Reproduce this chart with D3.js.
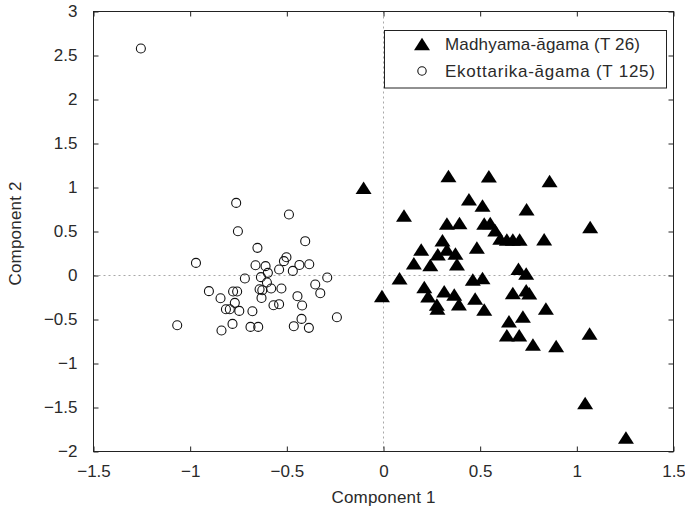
<!DOCTYPE html>
<html>
<head>
<meta charset="utf-8">
<script src="https://cdn.jsdelivr.net/npm/d3@7"></script>
<style>
  html, body { margin: 0; padding: 0; background: #fff; }
  svg text { font-family: "Liberation Sans", Arial, Helvetica, sans-serif; fill: #2a2a2a; }
</style>
</head>
<body>
<svg id="chart" width="685" height="513"></svg>
<script>
// Principal component scores, Madhyama-āgama (T 26)
const madhyamaX = [-0.103, 0.336, 0.545, 0.859, 0.442, 0.512, 0.740, 1.069, 0.106, 0.328,
  0.393, 0.521, 0.552, 0.578, 0.604, 0.638, 0.669, 0.704, 0.831, 0.305,
  0.195, 0.328, 0.281, 0.372, 0.483, 0.157, 0.242, 0.380, 0.698, 0.738,
  0.083, 0.462, 0.512, -0.008, 0.211, 0.231, 0.314, 0.366, 0.390, 0.276,
  0.279, 0.474, 0.521, 0.669, 0.738, 0.754, 0.840, 0.649, 0.721, 0.638,
  0.702, 0.773, 0.893, 1.066, 1.043, 1.254];
const madhyamaY = [0.998, 1.132, 1.128, 1.075, 0.867, 0.795, 0.753, 0.552, 0.682, 0.591,
  0.598, 0.591, 0.598, 0.515, 0.420, 0.409, 0.409, 0.409, 0.412, 0.401,
  0.295, 0.295, 0.242, 0.250, 0.318, 0.140, 0.120, 0.128, 0.077, 0.023,
  -0.031, -0.045, -0.027, -0.232, -0.130, -0.235, -0.178, -0.216, -0.326, -0.330,
  -0.375, -0.261, -0.386, -0.198, -0.167, -0.201, -0.375, -0.519, -0.466, -0.678,
  -0.678, -0.784, -0.800, -0.659, -1.448, -1.841];

// Principal component scores, Ekottarika-āgama (T 125)
const ekottarikaX = [-1.255, -0.762, -0.489, -0.753, -0.405, -0.652, -0.502, -0.515, -0.970, -0.662,
  -0.610, -0.435, -0.384, -0.540, -0.469, -0.598, -0.634, -0.717, -0.291, -0.603,
  -0.353, -0.903, -0.778, -0.757, -0.641, -0.627, -0.581, -0.528, -0.327, -0.843,
  -0.631, -0.445, -0.769, -0.569, -0.540, -0.421, -0.815, -0.795, -0.746, -0.678,
  -0.241, -0.424, -1.067, -0.781, -0.688, -0.648, -0.464, -0.386, -0.838];
const ekottarikaY = [2.580, 0.825, 0.693, 0.503, 0.390, 0.314, 0.208, 0.163, 0.143, 0.117,
  0.106, 0.120, 0.128, 0.068, 0.052, 0.030, -0.019, -0.034, -0.023, -0.080,
  -0.102, -0.178, -0.182, -0.182, -0.156, -0.167, -0.148, -0.148, -0.201, -0.258,
  -0.255, -0.235, -0.311, -0.338, -0.326, -0.341, -0.383, -0.383, -0.402, -0.406,
  -0.474, -0.493, -0.565, -0.550, -0.584, -0.584, -0.576, -0.595, -0.625];

const xTicks = [-1.5, -1, -0.5, 0, 0.5, 1, 1.5];
const yTicks = [-2, -1.5, -1, -0.5, 0, 0.5, 1, 1.5, 2, 2.5, 3];
const seriesNames = ["Madhyama-āgama (T 26)", "Ekottarika-āgama (T 125)"];
const xLabel = "Component 1";
const yLabel = "Component 2";

const svg = d3.select("#chart");
const plotLeft = 93.5, plotRight = 673.5, plotTop = 11.5, plotBottom = 451.5;
const fontSize = 17;
const textColor = "#2a2a2a";

const x = d3.scaleLinear().domain([-1.5, 1.5]).range([plotLeft, plotRight]);
const y = d3.scaleLinear().domain([-2, 3]).range([plotBottom, plotTop]);

// zero reference lines
const ref = svg.append("g").attr("stroke", "#a8a8a8").attr("stroke-width", 1)
  .attr("stroke-dasharray", "2,3");
ref.append("line").attr("x1", x(0)).attr("x2", x(0)).attr("y1", plotTop).attr("y2", plotBottom);
ref.append("line").attr("x1", plotLeft).attr("x2", plotRight).attr("y1", y(0)).attr("y2", y(0));

// axes with inward ticks on all four sides
const tickLen = 5;
function styleAxis(g) {
  g.select(".domain").remove();
  g.selectAll(".tick line").attr("stroke", "#222");
  g.selectAll(".tick text").attr("font-size", fontSize).attr("fill", textColor)
    .attr("font-family", "Liberation Sans, Arial, sans-serif");
}
svg.append("g").attr("transform", `translate(0,${plotBottom})`)
  .call(d3.axisBottom(x).tickValues(xTicks).tickFormat(d3.format("")).tickSizeInner(-tickLen).tickPadding(13))
  .call(styleAxis);
svg.append("g").attr("transform", `translate(0,${plotTop})`)
  .call(d3.axisTop(x).tickValues(xTicks).tickFormat("").tickSizeInner(-tickLen))
  .call(styleAxis);
svg.append("g").attr("transform", `translate(${plotLeft},0)`)
  .call(d3.axisLeft(y).tickValues(yTicks).tickFormat(d3.format("")).tickSizeInner(-tickLen).tickPadding(16))
  .call(styleAxis);
svg.append("g").attr("transform", `translate(${plotRight},0)`)
  .call(d3.axisRight(y).tickValues(yTicks).tickFormat("").tickSizeInner(-tickLen))
  .call(styleAxis);

// plot frame
svg.append("rect").attr("x", plotLeft).attr("y", plotTop)
  .attr("width", plotRight - plotLeft).attr("height", plotBottom - plotTop)
  .attr("fill", "none").attr("stroke", "#222").attr("stroke-width", 1);

// marker shapes
const triW = 16, triH = 12.5;
const triPath = `M0,${-triH / 2}L${triW / 2},${triH / 2}L${-triW / 2},${triH / 2}Z`;
const circR = 4.5;

// Ekottarika-āgama: open circles
svg.append("g").selectAll("circle")
  .data(ekottarikaX.map((v, i) => [v, ekottarikaY[i]]))
  .join("circle")
  .attr("cx", d => x(d[0])).attr("cy", d => y(d[1])).attr("r", circR)
  .attr("fill", "none").attr("stroke", "#111").attr("stroke-width", 1.1);

// Madhyama-āgama: filled triangles
svg.append("g").selectAll("path")
  .data(madhyamaX.map((v, i) => [v, madhyamaY[i]]))
  .join("path")
  .attr("transform", d => `translate(${x(d[0])},${y(d[1])})`)
  .attr("d", triPath).attr("fill", "#000");

// axis titles
svg.append("text").attr("x", x(0)).attr("y", 503).attr("text-anchor", "middle")
  .attr("font-size", fontSize).attr("textLength", 104).text(xLabel);
svg.append("text").attr("transform", `translate(21,${y(0.5) + 2}) rotate(-90)`)
  .attr("text-anchor", "middle").attr("font-size", fontSize).attr("textLength", 104).text(yLabel);

// legend
const lg = svg.append("g");
lg.append("rect").attr("x", 384.5).attr("y", 30.5).attr("width", 282).attr("height", 57.5)
  .attr("fill", "#fff").attr("stroke", "#222").attr("stroke-width", 1);
lg.append("path").attr("transform", "translate(422,44)").attr("d", triPath).attr("fill", "#000");
lg.append("circle").attr("cx", 422).attr("cy", 71).attr("r", circR - 0.3)
  .attr("fill", "none").attr("stroke", "#111").attr("stroke-width", 1.1);
lg.append("text").attr("x", 445).attr("y", 50).attr("font-size", fontSize).attr("textLength", 195).text(seriesNames[0]);
lg.append("text").attr("x", 445).attr("y", 77).attr("font-size", fontSize).attr("textLength", 210).text(seriesNames[1]);
</script>
</body>
</html>
